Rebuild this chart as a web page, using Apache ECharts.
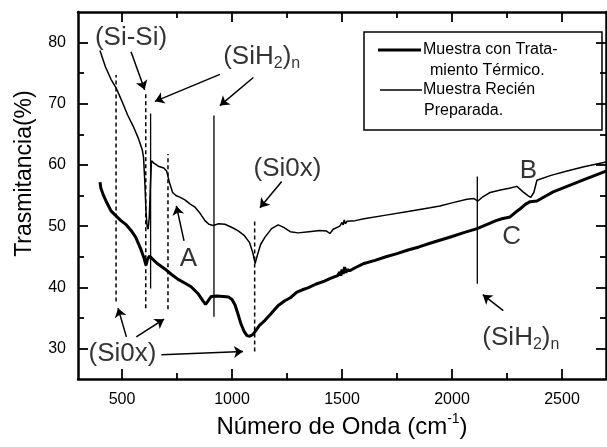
<!DOCTYPE html>
<html>
<head>
<meta charset="utf-8">
<script src="https://cdn.jsdelivr.net/npm/echarts@6/dist/echarts.min.js"></script>
<style>
  html, body { margin: 0; padding: 0; background: #fff; }
  #main { width: 607px; height: 447px; }
</style>
</head>
<body>
<div id="main"></div>
<script>
// axis ranges and ticks
var xMin = 300, xMax = 2700;
var yMin = 25, yMax = 85;
var xMajor = [500, 1000, 1500, 2000, 2500];
var xMinor = [750, 1250, 1750, 2250];
var yMajor = [30, 40, 50, 60, 70, 80];
var yMinor = [35, 45, 55, 65, 75];

var nameTratado = 'Muestra con Tratamiento Térmico';
var nameRecien = 'Muestra Recién Preparada';
var legendTratado = ['Muestra con Trata-', 'miento Térmico.'];
var legendRecien = ['Muestra Recién', 'Preparada.'];

// [numero de onda, trasmitancia]
var tratadoData = [
  [400,57.2],[404,56.2],[414,55.2],[430,53.9],[450,52.5],[475,51.6],[495,50.9],[520,50.2],
  [541,49.3],[562,48.2],[586,46.2],[600,44.8],[609,43.6],[616,44.6],[625,45.1],[632,44.9],
  [660,43.9],[695,43.0],[725,42.1],[755,41.3],[785,40.7],[814,40.1],[845,39.0],[868,37.8],
  [880,37.2],[890,37.7],[905,38.5],[930,38.6],[960,38.5],[985,38.4],[1000,38.0],[1014,37.1],
  [1030,35.3],[1041,34.0],[1055,32.8],[1068,32.1],[1080,32.0],[1095,32.3],[1110,33.0],
  [1125,33.8],[1150,34.6],[1180,35.8],[1209,37.0],[1240,37.8],[1265,38.3],[1295,39.2],
  [1320,39.6],[1345,39.9],[1380,40.5],[1420,41.0],[1450,41.5],[1480,41.9],[1490,42.5],
  [1495,41.9],[1500,42.9],[1505,42.2],[1512,43.3],[1518,42.4],[1525,42.9],[1535,42.7],
  [1560,43.2],[1600,43.9],[1650,44.4],[1700,45.0],[1750,45.5],[1800,46.1],[1850,46.6],
  [1900,47.2],[2000,48.3],[2050,48.9],[2114,49.6],[2160,50.3],[2200,50.9],[2227,51.2],
  [2264,51.5],[2290,52.3],[2309,52.8],[2335,53.6],[2355,54.0],[2386,54.1],[2420,54.8],
  [2460,55.6],[2523,56.5],[2600,57.6],[2700,59.0]
];
var recienData = [
  [400,78.7],[410,77.6],[425,76.0],[450,74.0],[473,72.6],[500,70.4],[525,68.2],[550,66.4],
  [575,64.3],[592,62.5],[598,61.2],[604,57.0],[609,52.5],[614,50.0],[619,49.5],[624,51.5],
  [629,56.5],[634,60.7],[645,60.3],[665,59.8],[690,59.5],[703,59.0],[715,57.2],[730,55.5],
  [745,55.0],[765,54.7],[786,54.3],[810,53.6],[832,53.1],[855,52.1],[877,50.9],[895,50.3],
  [914,50.1],[940,50.4],[968,50.3],[1005,49.7],[1030,49.2],[1055,48.5],[1080,47.3],
  [1095,45.6],[1105,43.9],[1115,45.2],[1130,47.0],[1150,48.2],[1180,49.6],[1210,50.2],
  [1235,49.8],[1265,49.1],[1300,48.9],[1350,49.1],[1400,49.3],[1430,49.2],[1445,48.8],
  [1460,49.5],[1490,50.0],[1500,50.6],[1505,50.2],[1510,51.0],[1515,50.4],[1523,50.8],
  [1560,50.9],[1600,51.2],[1700,51.8],[1800,52.4],[1900,53.0],[1945,53.3],[2000,53.8],
  [2068,54.4],[2100,54.5],[2118,54.1],[2140,54.8],[2173,55.5],[2220,55.9],[2260,56.2],
  [2295,56.5],[2323,55.6],[2345,55.0],[2358,54.7],[2372,55.5],[2386,57.5],[2450,58.3],
  [2523,59.0],[2600,59.7],[2700,60.5]
];

// vertical band markers [x, yBottom, yTop]
var dottedMarks = [[473,37.7,74.7],[608,36.6,71.8],[709,36.4,61.8],[1103,29.5,51.2]];
var solidMarks = [[630,39.8,68.4],[918,35.2,68.1],[2115,40.6,58.1]];

// arrows [xFrom, yFrom, xTo, yTo]
var arrows = [
  [541,78.5,603,72.3],
  [945,74.8,650,70.4],
  [1097,74.3,945,69.7],
  [1226,57.3,1127,53.0],
  [782,47.6,747,53.3],
  [520,31.9,482,36.6],
  [565,31.9,691,34.8],
  [679,29.0,1050,29.5],
  [2233,36.2,2140,38.8]
];

// text labels [x, y, text]
var notes = [
  [541,80.7,'(Si-Si)'],
  [1135,77.7,'(SiH{s|2}){s|n}'],
  [1252,59.4,'(Si0x)'],
  [802,44.7,'A'],
  [502,29.1,'(Si0x)'],
  [2347,59.0,'B'],
  [2271,48.2,'C'],
  [2313,31.8,'(SiH{s|2}){s|n}']
];

var font = "'Liberation Sans', Arial, sans-serif";

function tickAxis(dim, position, ticks, len, withLine, withLabels) {
  return {
    type: 'value',
    position: position,
    min: dim === 'x' ? xMin : yMin,
    max: dim === 'x' ? xMax : yMax,
    splitLine: { show: false },
    axisLine: { show: withLine, onZero: false, lineStyle: { color: '#000', width: 2.5 } },
    axisTick: { show: true, inside: true, length: len, customValues: ticks,
                lineStyle: { color: '#000', width: 1.8 } },
    axisLabel: withLabels
      ? { show: true, customValues: ticks, margin: 12, color: '#000', fontSize: 16, fontFamily: font,
          formatter: function (v) { return String(v); } }
      : { show: false }
  };
}

var xAxes = [
  tickAxis('x', 'bottom', xMajor, 10, true, true),
  tickAxis('x', 'bottom', xMinor, 6, false, false),
  tickAxis('x', 'top', xMajor, 10, true, false),
  tickAxis('x', 'top', xMinor, 6, false, false)
];
xAxes[0].name = 'Número de Onda (cm{sup|-1})';
xAxes[0].nameLocation = 'middle';
xAxes[0].nameGap = 30;
xAxes[0].nameTextStyle = {
  color: '#000', fontSize: 24, fontFamily: font, lineHeight: 30,
  rich: { sup: { fontSize: 14, lineHeight: 14, verticalAlign: 'top', fontFamily: font, color: '#000' } }
};

var yAxes = [
  tickAxis('y', 'left', yMajor, 10, true, true),
  tickAxis('y', 'left', yMinor, 6, false, false),
  tickAxis('y', 'right', yMajor, 10, true, false),
  tickAxis('y', 'right', yMinor, 6, false, false)
];
yAxes[0].name = 'Trasmitancia(%)';
yAxes[0].nameLocation = 'middle';
yAxes[0].nameRotate = 90;
yAxes[0].nameGap = 42;
yAxes[0].nameTextStyle = { color: '#000', fontSize: 23, fontFamily: font, padding: [0, 0, 0, 44] };

var markerSeries = dottedMarks.map(function (m) {
  return { type: 'line', data: [[m[0], m[1]], [m[0], m[2]]], symbol: 'none', silent: true,
           lineStyle: { color: '#000', width: 1.5, type: [4, 3] } };
}).concat(solidMarks.map(function (m) {
  return { type: 'line', data: [[m[0], m[1]], [m[0], m[2]]], symbol: 'none', silent: true,
           lineStyle: { color: '#000', width: 1.3 } };
}));

var chart = echarts.init(document.getElementById('main'));
chart.setOption({
  animation: false,
  backgroundColor: '#fff',
  grid: { left: 78, right: 1, top: 12, bottom: 59 },
  xAxis: xAxes,
  yAxis: yAxes,
  series: [
    { name: nameTratado, type: 'line', data: tratadoData, symbol: 'none', z: 3,
      lineStyle: { color: '#000', width: 3 }, itemStyle: { color: '#000' } },
    { name: nameRecien, type: 'line', data: recienData, symbol: 'none', z: 3,
      lineStyle: { color: '#000', width: 1.5 }, itemStyle: { color: '#000' },
      markLine: {
        silent: true, symbol: ['none', 'arrow'], symbolSize: 9,
        label: { show: false },
        lineStyle: { color: '#000', width: 1.5, type: 'solid' },
        data: arrows.map(function (a) { return [{ coord: [a[0], a[1]] }, { coord: [a[2], a[3]] }]; })
      } }
  ].concat(markerSeries).concat([
    { type: 'scatter', data: notes, symbolSize: 1, silent: true,
      itemStyle: { color: 'rgba(0,0,0,0)' },
      label: { show: true, position: 'inside', color: '#000', fontSize: 26, fontFamily: font, lineHeight: 30,
               formatter: function (p) { return p.data[2]; },
               rich: { s: { fontSize: 16, lineHeight: 14, verticalAlign: 'bottom', fontFamily: font, color: '#000' } } } }
  ]),
  graphic: [
    { type: 'rect', shape: { x: 364, y: 32, width: 238, height: 98 },
      style: { fill: '#fff', stroke: '#000', lineWidth: 1.5 } },
    { type: 'line', shape: { x1: 378, y1: 50, x2: 421, y2: 50 }, style: { stroke: '#000', lineWidth: 3 } },
    { type: 'line', shape: { x1: 380, y1: 90, x2: 422, y2: 90 }, style: { stroke: '#000', lineWidth: 1.5 } },
    { type: 'text', x: 423, y: 50, style: { text: legendTratado[0], fontSize: 16, fontFamily: font, fill: '#000', verticalAlign: 'middle' } },
    { type: 'text', x: 430, y: 71, style: { text: legendTratado[1], fontSize: 16, fontFamily: font, fill: '#000', verticalAlign: 'middle' } },
    { type: 'text', x: 423, y: 90, style: { text: legendRecien[0], fontSize: 16, fontFamily: font, fill: '#000', verticalAlign: 'middle' } },
    { type: 'text', x: 424, y: 111, style: { text: legendRecien[1], fontSize: 16, fontFamily: font, fill: '#000', verticalAlign: 'middle' } }
  ]
});
</script>
</body>
</html>
